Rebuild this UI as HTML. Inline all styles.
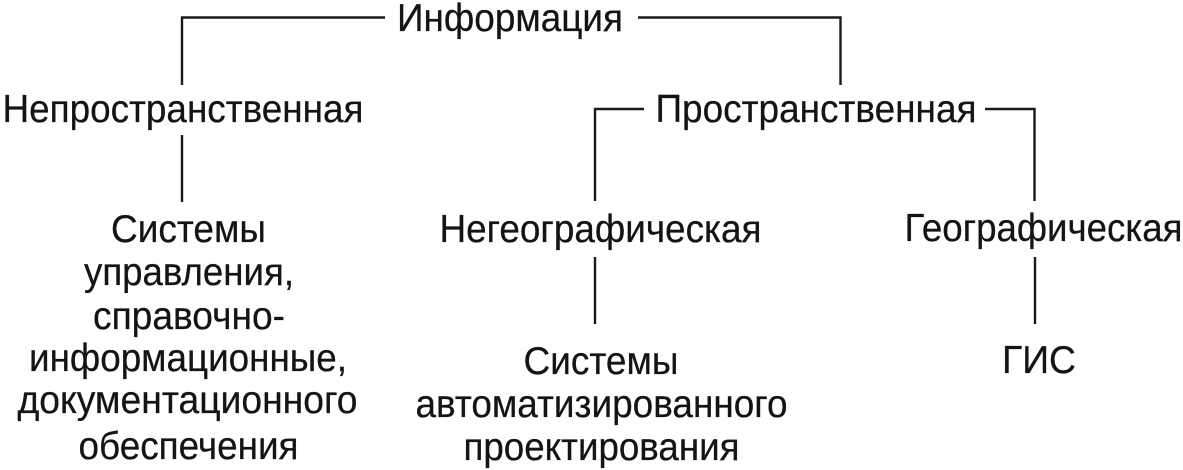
<!DOCTYPE html>
<html><head><meta charset="utf-8">
<style>
html,body{margin:0;padding:0;background:#fff;width:1183px;height:470px;overflow:hidden}
svg{display:block}
text{font-family:"Liberation Sans",Arial,sans-serif;font-size:39px;fill:#141414;stroke:#141414;stroke-width:.25;text-anchor:middle}
path{fill:none;stroke:#1a1a1a;stroke-width:2.4}
</style></head>
<body>
<svg width="1183" height="470" viewBox="0 0 1183 470" xmlns="http://www.w3.org/2000/svg">
<path d="M182 85V17.5H385"/>
<path d="M638 17.5H840.5V85"/>
<path d="M182 135V202"/>
<path d="M595 201V109H644"/>
<path d="M985 109H1034.5V201"/>
<path d="M595 257V324"/>
<path d="M1035 257V324"/>
<text x="510" y="31" textLength="226" lengthAdjust="spacingAndGlyphs">Информация</text>
<text x="183" y="122" textLength="361" lengthAdjust="spacingAndGlyphs">Непространственная</text>
<text x="816" y="122" textLength="321" lengthAdjust="spacingAndGlyphs">Пространственная</text>
<text x="188.500" y="242" textLength="155" lengthAdjust="spacingAndGlyphs">Системы</text>
<text x="189" y="285" textLength="210" lengthAdjust="spacingAndGlyphs">управления,</text>
<text x="189" y="329" textLength="192" lengthAdjust="spacingAndGlyphs">справочно-</text>
<text x="188" y="371" textLength="318" lengthAdjust="spacingAndGlyphs">информационные,</text>
<text x="187.500" y="413" textLength="340" lengthAdjust="spacingAndGlyphs">документационного</text>
<text x="188.500" y="459" textLength="220" lengthAdjust="spacingAndGlyphs">обеспечения</text>
<text x="600.500" y="242" textLength="322" lengthAdjust="spacingAndGlyphs">Негеографическая</text>
<text x="1043.500" y="241" textLength="278" lengthAdjust="spacingAndGlyphs">Географическая</text>
<text x="601" y="374" textLength="155" lengthAdjust="spacingAndGlyphs">Системы</text>
<text x="601.500" y="417" textLength="372" lengthAdjust="spacingAndGlyphs">автоматизированного</text>
<text x="601.500" y="460" textLength="276" lengthAdjust="spacingAndGlyphs">проектирования</text>
<text x="1039" y="373" textLength="74" lengthAdjust="spacingAndGlyphs">ГИС</text>
</svg>
</body></html>
